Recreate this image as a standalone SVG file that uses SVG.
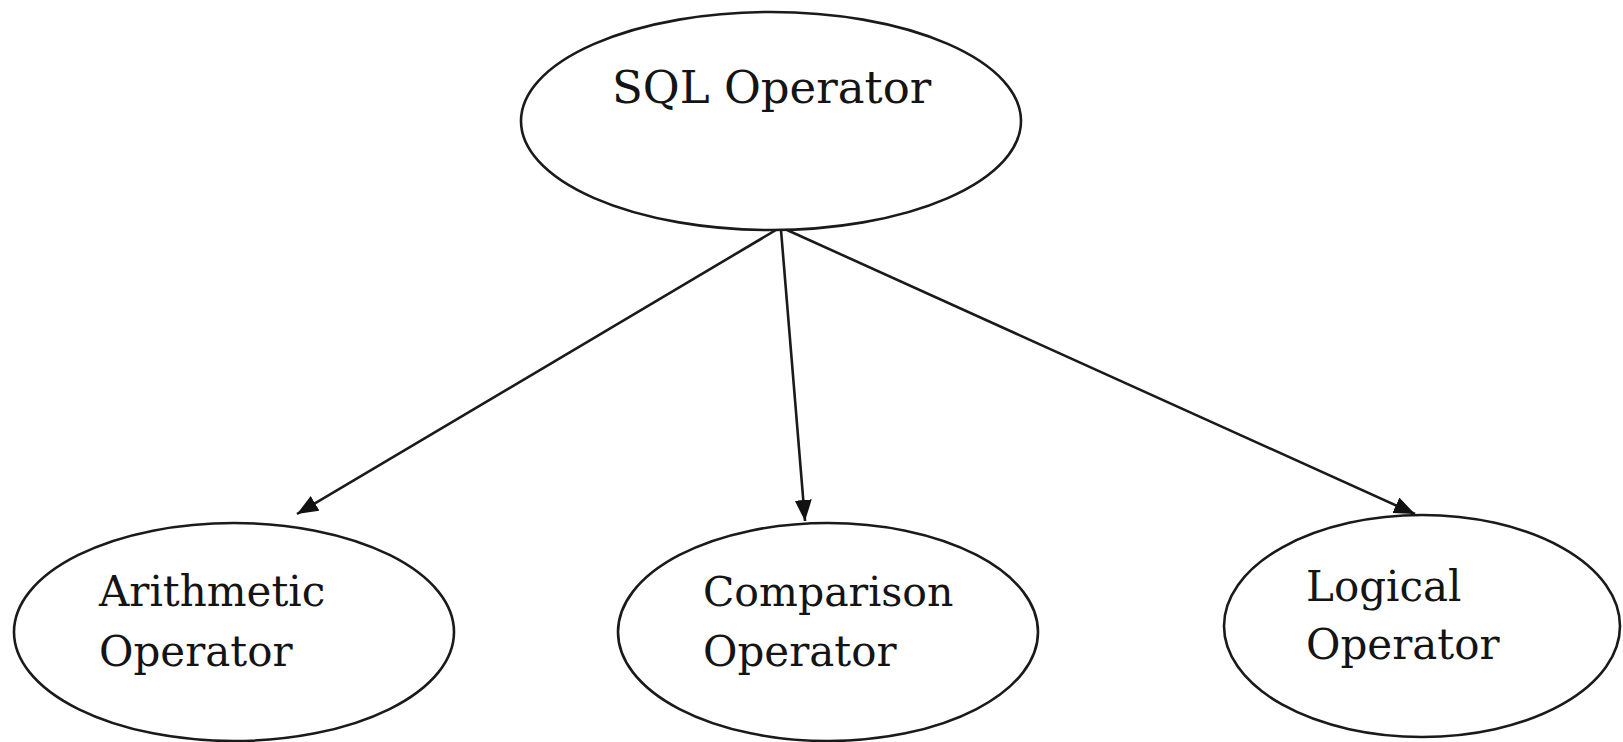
<svg xmlns="http://www.w3.org/2000/svg" width="1623" height="742" viewBox="0 0 1623 742">
<style>
.node ellipse{fill:#fff;stroke:#1a1a1a;stroke-width:2.6}
.node text{font-family:"DejaVu Serif","Liberation Serif",serif;fill:#141414}
.conn line{stroke:#1a1a1a;stroke-width:2.6}
</style>
<defs>
<marker id="ah" markerUnits="userSpaceOnUse" markerWidth="24" markerHeight="20" refX="21" refY="8.5" orient="auto">
<path d="M0,0 L21,8.5 L0,17 z" fill="#111"/>
</marker>
</defs>
<rect width="1623" height="742" fill="#fff"/>
<g id="n-sql" class="node">
<ellipse cx="771" cy="121" rx="250" ry="109"/>
<text x="612" y="103" font-size="45">SQL Operator</text>
</g>
<g id="n-arith" class="node">
<ellipse cx="234" cy="632" rx="220" ry="109"/>
<text x="99" y="606" font-size="42">Arithmetic</text>
<text x="99" y="666" font-size="42">Operator</text>
</g>
<g id="n-comp" class="node">
<ellipse cx="828" cy="632" rx="210" ry="109"/>
<text x="703" y="606" font-size="41">Comparison</text>
<text x="703" y="666" font-size="42">Operator</text>
</g>
<g id="n-logic" class="node">
<ellipse cx="1422" cy="626" rx="198" ry="111"/>
<text x="1306" y="601" font-size="42">Logical</text>
<text x="1306" y="659" font-size="42">Operator</text>
</g>
<g id="connectors" class="conn">
<line x1="776" y1="230" x2="297" y2="514" marker-end="url(#ah)"/>
<line x1="781" y1="230" x2="805" y2="521" marker-end="url(#ah)"/>
<line x1="787" y1="230" x2="1415" y2="514" marker-end="url(#ah)"/>
</g>
</svg>
